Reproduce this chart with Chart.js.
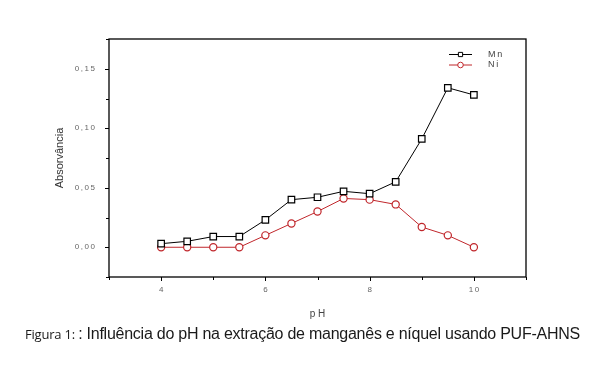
<!DOCTYPE html>
<html>
<head>
<meta charset="utf-8">
<script src="https://cdn.jsdelivr.net/npm/chart.js@4/dist/chart.umd.min.js"></script>
<style>
  html, body { margin: 0; padding: 0; background: #fff; }
  #wrap { position: relative; width: 598px; height: 379px; }
  #chart { position: absolute; left: 0; top: 0; }
  #caption {
    position: absolute; left: 25px; top: 325px;
    color: #1a1a1a; white-space: nowrap;
  }
  #caption .fig { font-family: "Open Sans", "DejaVu Sans", sans-serif; font-size: 13px; letter-spacing: -0.2px; }
  #caption .txt { font-family: "Liberation Sans", Arial, sans-serif; font-size: 16px; letter-spacing: -0.25px; }
</style>
</head>
<body>
<div id="wrap">
  <canvas id="chart" width="598" height="379"></canvas>
  <div id="caption"><span class="fig">Figura 1: </span><span class="txt">: Influência do pH na extração de manganês e níquel usando PUF-AHNS</span></div>
</div>
<script>
const phValues = [4, 4.5, 5, 5.5, 6, 6.5, 7, 7.5, 8, 8.5, 9, 9.5, 10];
const mnValues = [0.003, 0.005, 0.009, 0.009, 0.023, 0.040, 0.042, 0.047, 0.045, 0.055, 0.091, 0.134, 0.128];
const niValues = [0.000, 0.000, 0.000, 0.000, 0.010, 0.020, 0.030, 0.041, 0.040, 0.036, 0.017, 0.010, 0.000];
const xTickLabels = [4, 6, 8, 10];
const yTickLabels = [0, 0.05, 0.10, 0.15];

const spaced = s => s.split("").join("\u2009");

/* =========================
   FRAME + TICKS + LEGEND
========================= */
const framePlugin = {
    id: "frame",
    afterDraw(chart) {
        const { ctx, chartArea: a, scales } = chart;
        ctx.save();
        ctx.strokeStyle = "#000";
        ctx.lineWidth = 1.3;
        ctx.strokeRect(a.left, a.top, a.right - a.left, a.bottom - a.top);

        // ticks on x (every 1 pH, major on labelled ones)
        ctx.lineWidth = 1;
        for (let v = 3; v <= 11; v++) {
            const x = Math.round(scales.x.getPixelForValue(v)) + 0.5;
            const len = xTickLabels.includes(v) ? 4 : 3;
            ctx.beginPath();
            ctx.moveTo(x, a.bottom);
            ctx.lineTo(x, a.bottom + len);
            ctx.stroke();
        }
        // ticks on y (every 0.025)
        for (let i = -1; i <= 7; i++) {
            const v = i * 0.025;
            const y = Math.round(scales.y.getPixelForValue(v)) + 0.5;
            const len = i % 2 === 0 ? 4 : 3;
            ctx.beginPath();
            ctx.moveTo(a.left, y);
            ctx.lineTo(a.left - len, y);
            ctx.stroke();
        }

        // legend
        const lx = 449, ly = 54;
        chart.data.datasets.forEach((ds, i) => {
            const y = ly + i * 10.5 + 0.5;
            ctx.strokeStyle = ds.borderColor;
            ctx.lineWidth = 1;
            ctx.beginPath();
            ctx.moveTo(lx, y);
            ctx.lineTo(lx + 23, y);
            ctx.stroke();
            const opts = {
                pointStyle: ds.pointStyle,
                radius: ds.pointStyle === "rect" ? 3 : 2.8,
                borderWidth: 1
            };
            ctx.fillStyle = "#fff";
            Chart.helpers.drawPoint(ctx, opts, lx + 11.5, y);
            ctx.fillStyle = "#444";
            ctx.font = "9px 'Liberation Sans', Arial, sans-serif";
            ctx.textBaseline = "middle";
            ctx.textAlign = "left";
            ctx.fillText(spaced(ds.label), lx + 39, y);
        });
        ctx.restore();
    }
};

function renderChart() {
    const ctx = document.getElementById("chart").getContext("2d");

    new Chart(ctx, {
        type: "line",
        data: {
            datasets: [
                {
                    label: "Mn",
                    data: phValues.map((x, i) => ({ x, y: mnValues[i] })),
                    borderColor: "#000",
                    backgroundColor: "#fff",
                    borderWidth: 1,
                    pointStyle: "rect",
                    pointRadius: 4.6,
                    pointBorderWidth: 1.2,
                    pointBackgroundColor: "#fff",
                    pointBorderColor: "#000"
                },
                {
                    label: "Ni",
                    data: phValues.map((x, i) => ({ x, y: niValues[i] })),
                    borderColor: "#c0262b",
                    backgroundColor: "#fff",
                    borderWidth: 1,
                    pointStyle: "circle",
                    pointRadius: 3.6,
                    pointBorderWidth: 1.2,
                    pointBackgroundColor: "#fff",
                    pointBorderColor: "#c0262b"
                }
            ]
        },
        options: {
            responsive: false,
            animation: false,
            layout: { padding: { left: 53, top: 39, right: 72, bottom: 55 } },
            plugins: {
                legend: { display: false },
                tooltip: { enabled: false }
            },
            scales: {
                x: {
                    type: "linear",
                    min: 3,
                    max: 11,
                    afterFit: s => { s.height = 47; },
                    afterBuildTicks: s => { s.ticks = xTickLabels.map(v => ({ value: v })); },
                    grid: { display: false, drawTicks: false },
                    border: { display: false },
                    ticks: {
                        padding: 8,
                        color: "#666",
                        font: { size: 8, family: "'Liberation Sans', Arial, sans-serif" },
                        callback: v => spaced(String(v))
                    },
                    title: {
                        display: true,
                        text: "p H",
                        color: "#444",
                        font: { size: 10, family: "'Liberation Sans', Arial, sans-serif" },
                        padding: { top: 10 }
                    }
                },
                y: {
                    min: -0.025,
                    max: 0.175,
                    afterFit: s => { s.width = 56; },
                    afterBuildTicks: s => { s.ticks = yTickLabels.map(v => ({ value: v })); },
                    grid: { display: false, drawTicks: false },
                    border: { display: false },
                    ticks: {
                        padding: 14,
                        color: "#666",
                        font: { size: 8, family: "'Liberation Sans', Arial, sans-serif" },
                        callback: v => spaced(v.toFixed(2).replace(".", ","))
                    },
                    title: {
                        display: true,
                        text: "Absorvância",
                        color: "#333",
                        font: { size: 11, family: "'Liberation Sans', Arial, sans-serif" },
                        padding: { top: 0, bottom: 0 }
                    }
                }
            }
        },
        plugins: [framePlugin]
    });
}

document.addEventListener("DOMContentLoaded", renderChart);
</script>
</body>
</html>
